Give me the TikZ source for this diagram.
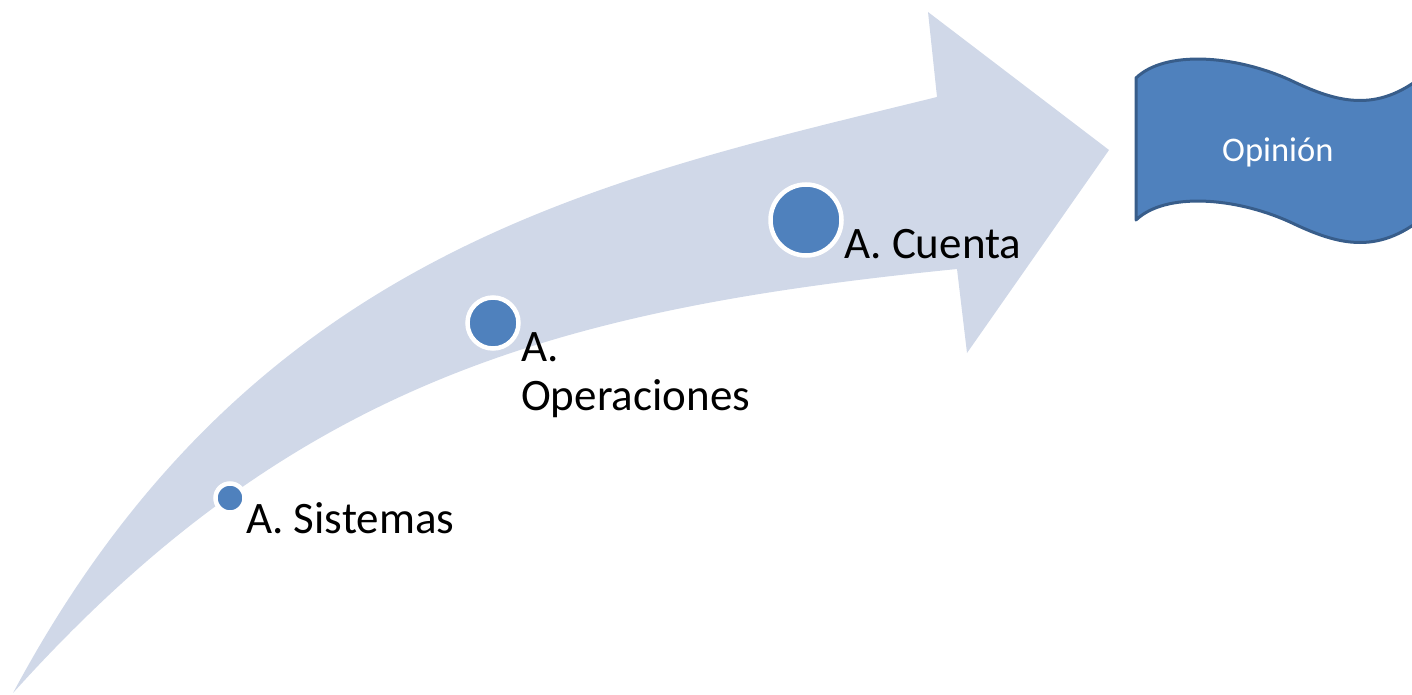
\documentclass[tikz,border=0pt]{standalone}
\usepackage{fontspec}
\setmainfont{Carlito}
\definecolor{arrowfill}{HTML}{D0D8E8}
\definecolor{dotblue}{HTML}{4F81BD}
\definecolor{bandedge}{HTML}{385D8A}
\begin{document}
\begin{tikzpicture}[x=1pt,y=-1pt,
  dot/.style={circle,fill=dotblue,draw=white,line width=4.5pt,inner sep=0pt},
  lbl/.style={anchor=base west,inner sep=0pt,font=\fontsize{45}{54}\selectfont,text=black},
  bandtxt/.style={anchor=base west,inner sep=0pt,font=\fontsize{34.5}{41}\selectfont,text=white}]
\useasboundingbox (0,0) rectangle (1412,695);
\clip (0,0) rectangle (1412,695);
% curved arrow
\fill[arrowfill] (13,693) .. controls (250,250) and (600,180) .. (937,97)
  -- (928,12) -- (1109,150) -- (967,353) -- (957,269)
  .. controls (557,309) and (293,382) .. (13,693) -- cycle;
% dots
\node[dot,minimum size=29pt] (c1) at (230,498) {};
\node[dot,minimum size=51pt] (c2) at (493,323) {};
\node[dot,minimum size=71pt] (c3) at (806,220) {};
% labels
\node[lbl] (t1) at (246,533) {A. Sistemas};
\node[lbl] (t2a) at (521,361) {A.};
\node[lbl] (t2b) at (521,410) {Operaciones};
\node[lbl] (t3) at (844,258) {A. Cuenta};
% wave banner
\filldraw[fill=dotblue,draw=bandedge,line width=3pt,line join=round]
  (1136,78) .. controls (1165,50) and (1235,55) .. (1290,80)
  .. controls (1340,104) and (1380,114) .. (1430,70)
  -- (1430,212)
  .. controls (1380,256) and (1340,246) .. (1290,222)
  .. controls (1235,197) and (1165,192) .. (1136,220) -- cycle;
\node[bandtxt] (op) at (1222,161) {Opinión};
\end{tikzpicture}
\end{document}
